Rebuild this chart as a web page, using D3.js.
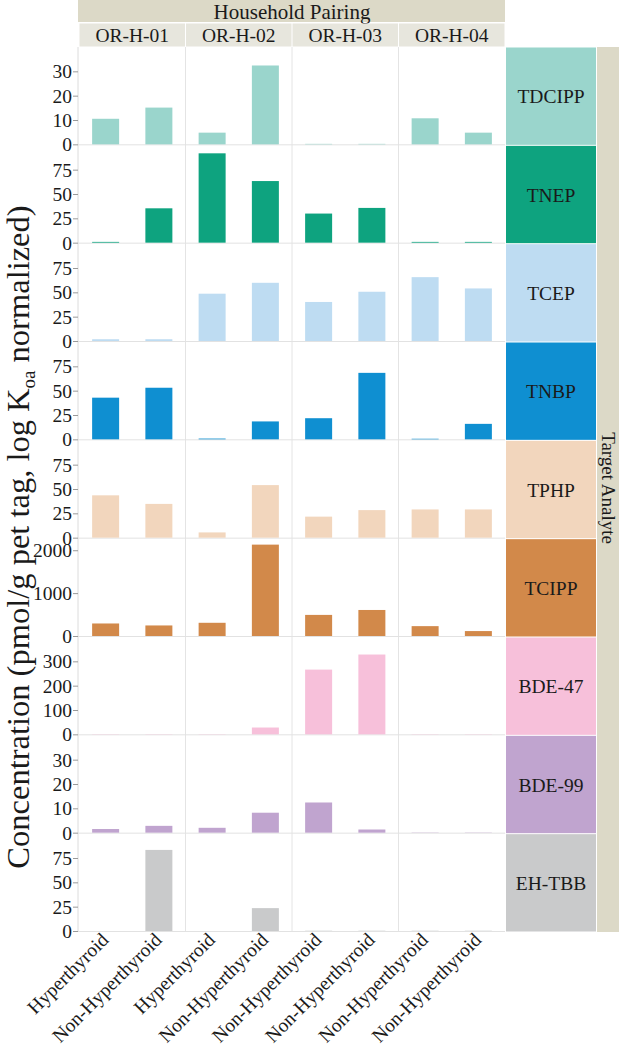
<!DOCTYPE html>
<html><head><meta charset="utf-8">
<script src="https://cdn.jsdelivr.net/npm/d3@7"></script>
<style>body{margin:0;background:#fff}svg{display:block}text{font-family:"Liberation Serif","Times New Roman",serif;fill:#1a1a1a}</style>
</head><body>
<svg id="c" width="619" height="1050"></svg>
<script>
const households = ["OR-H-01","OR-H-02","OR-H-03","OR-H-04"];
const groupLabels = [
  ["Hyperthyroid","Non-Hyperthyroid"],
  ["Hyperthyroid","Non-Hyperthyroid"],
  ["Non-Hyperthyroid","Non-Hyperthyroid"],
  ["Non-Hyperthyroid","Non-Hyperthyroid"]
];
const analytes = ["TDCIPP","TNEP","TCEP","TNBP","TPHP","TCIPP","BDE-47","BDE-99","EH-TBB"];
const colors = ["#9ad5cc","#0ea37f","#bedcf2","#0f8fd1","#f2d6bd","#d2894a","#f7c0da","#c0a4cf","#c9cacb"];
const yMax = [40,100,100,100,100,2270,400,40,100];
const yTicks = [[0,10,20,30],[0,25,50,75],[0,25,50,75],[0,25,50,75],[0,25,50,75],[0,1000,2000],[0,100,200,300],[0,10,20,30],[0,25,50,75]];
// values per analyte, in bar order (H01 a,b, H02 a,b, H03 a,b, H04 a,b)
const vTDCIPP = [10.5,15.1,4.8,32.4,0.2,0.2,10.7,4.8];
const vTNEP   = [0.8,35.3,91.8,63.3,29.9,35.7,0.8,0.8];
const vTCEP   = [1.8,1.8,48.6,59.8,40.1,50.6,65.6,54];
const vTNBP   = [42.8,53,0.8,18.4,21.7,68.3,0.6,15.9];
const vTPHP   = [43.5,34.7,5.4,54,21.6,28.3,29,29];
const vTCIPP  = [292,246,308,2131,492,607,230,115];
const vBDE47  = [1,1,1,28,266,328,1,1];
const vBDE99  = [1.5,2.8,2,8.2,12.4,1.3,0.1,0.1];
const vEHTBB  = [0,83.3,0,23.5,0.3,0.3,0.3,0.3];
const values = [vTDCIPP,vTNEP,vTCEP,vTNBP,vTPHP,vTCIPP,vBDE47,vBDE99,vEHTBB];

const svg = d3.select("#c");
const L = 79, R = 505, T = 47, B = 932;
const rowH = (B - T) / analytes.length;
const xH = d3.scaleBand().domain(households).range([L, R]);
const xIn = d3.scalePoint().domain([0,1]).range([0, xH.bandwidth()]).padding(0.5);
const barW = 27;

// header
svg.append("rect").attr("x", L - 1).attr("y", 0).attr("width", R - L + 1).attr("height", 22).attr("fill", "#dcd9c7");
svg.append("text").attr("x", (L + R) / 2).attr("y", 18.5).attr("text-anchor", "middle").attr("font-size", 21).text("Household Pairing");
households.forEach(h => {
  svg.append("rect").attr("x", xH(h) + 0.5).attr("y", 23.5).attr("width", xH.bandwidth() - 1).attr("height", 23).attr("fill", "#e7e6dd");
  svg.append("text").attr("x", xH(h) + xH.bandwidth() / 2).attr("y", 41.5).attr("text-anchor", "middle").attr("font-size", 19.5).text(h);
});

// right side analyte strip
svg.append("rect").attr("x", 597).attr("y", T).attr("width", 22).attr("height", B - T).attr("fill", "#dcd9c7");
svg.append("text").attr("transform", `translate(601.5,488) rotate(90)`).attr("text-anchor", "middle").attr("font-size", 19).text("Target Analyte");

// y title
const yt = svg.append("text").attr("transform", "translate(29,537) rotate(-90)").attr("text-anchor", "middle").attr("font-size", 32.5);
yt.append("tspan").text("Concentration (pmol/g pet tag, log K");
yt.append("tspan").attr("font-size", 19).attr("dy", 6).text("oa");
yt.append("tspan").attr("dy", -6).text(" normalized)");

// vertical grid separators
households.slice(1).forEach(h => {
  svg.append("line").attr("x1", xH(h)).attr("x2", xH(h)).attr("y1", T).attr("y2", B).attr("stroke", "#e4e4e4").attr("stroke-width", 1);
});
svg.append("line").attr("x1", L - 1).attr("x2", L - 1).attr("y1", T).attr("y2", B).attr("stroke", "#dcdcdc");

analytes.forEach((a, i) => {
  const top = T + i * rowH, bot = top + rowH;
  const y = d3.scaleLinear().domain([0, yMax[i]]).range([bot - 1, top]);
  // baseline
  svg.append("line").attr("x1", L - 1).attr("x2", R).attr("y1", bot - 0.5).attr("y2", bot - 0.5).attr("stroke", "#e2e2e2");
  // axis
  const ax = d3.axisLeft(y).tickValues(yTicks[i]).tickSize(5).tickPadding(1).tickFormat(d3.format("d"));
  const g = svg.append("g").attr("transform", `translate(${L - 1},0)`).call(ax);
  g.select(".domain").remove();
  g.selectAll(".tick line").attr("stroke", "#9a9a9a");
  g.selectAll(".tick text").attr("font-size", 19.5).attr("font-family", "Liberation Serif").attr("fill", "#1a1a1a").attr("dy", "0.34em");
  // bars
  values[i].forEach((v, j) => {
    const h = households[Math.floor(j / 2)];
    const cx = xH(h) + xIn(j % 2);
    svg.append("rect").attr("x", cx - barW / 2).attr("width", barW)
      .attr("y", y(v)).attr("height", Math.max(0, y(0) - y(v)))
      .attr("fill", colors[i]);
  });
  // strip
  svg.append("rect").attr("x", 506).attr("y", top + 0.5).attr("width", 90).attr("height", rowH - 1).attr("fill", colors[i]);
  svg.append("text").attr("x", 551).attr("y", top + rowH / 2 + 7).attr("text-anchor", "middle").attr("font-size", 19.5).text(a);
});

// x labels
households.forEach((h, hi) => {
  [0,1].forEach(k => {
    const cx = xH(h) + xIn(k);
    svg.append("text").attr("transform", `translate(${cx + 4},${B + 9}) rotate(-45)`)
      .attr("text-anchor", "end").attr("font-size", 19.5).text(groupLabels[hi][k]);
  });
});
</script>
</body></html>
